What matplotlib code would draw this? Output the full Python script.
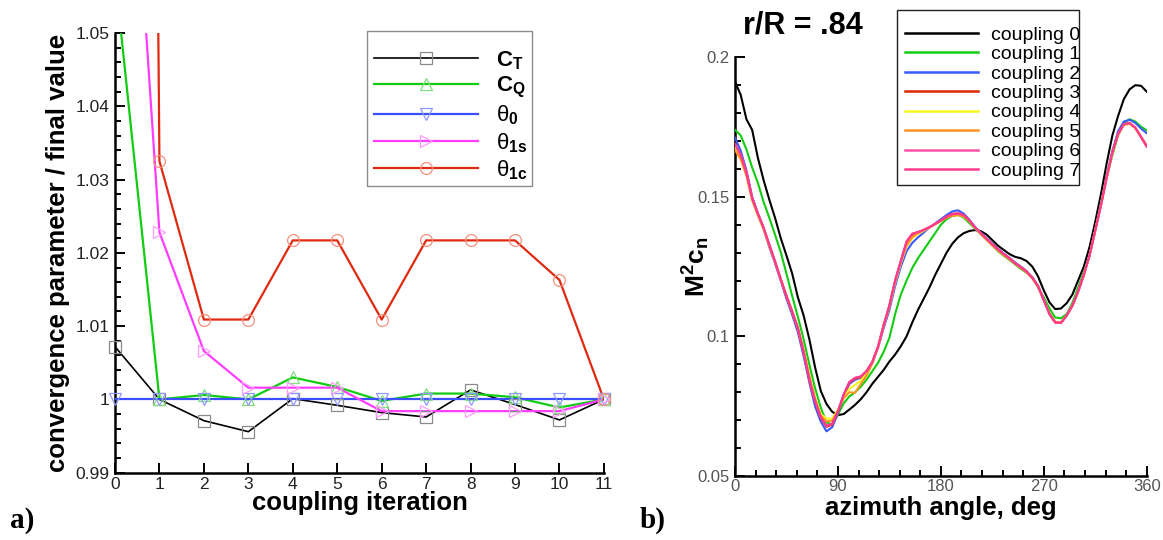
import numpy as np
import matplotlib
matplotlib.use("Agg")
import matplotlib.pyplot as plt
from matplotlib.lines import Line2D
from matplotlib.patches import Rectangle

plt.rcParams['font.family'] = ['Liberation Sans', 'DejaVu Sans']
plt.rcParams['mathtext.fontset'] = 'custom'
plt.rcParams['mathtext.rm'] = 'Liberation Sans'
plt.rcParams['mathtext.bf'] = 'Liberation Sans:bold'
plt.rcParams['mathtext.it'] = 'Liberation Sans:italic'

# ---------------- (a) convergence of trim parameters ----------------
iterations = [0, 1, 2, 3, 4, 5, 6, 7, 8, 9, 10, 11]
ct = [1.0072, 1.0000, 0.9971, 0.9956, 1.0001, 0.9992, 0.9982, 0.9976, 1.0013, 0.9993, 0.9972, 1.0000]
cq = [1.0580, 1.0000, 1.0006, 1.0000, 1.0030, 1.0017, 0.9998, 1.0008, 1.0008, 1.0003, 0.9989, 1.0000]
theta0 = [1.0000, 1.0000, 1.0000, 1.0000, 1.0000, 1.0000, 1.0000, 1.0000, 1.0000, 1.0000, 1.0000, 1.0000]
theta1s = [1.1140, 1.0228, 1.0066, 1.0016, 1.0016, 1.0016, 0.9984, 0.9984, 0.9984, 0.9984, 0.9984, 1.0000]
theta1c = [1.7200, 1.0325, 1.0109, 1.0109, 1.0217, 1.0217, 1.0109, 1.0217, 1.0217, 1.0217, 1.0163, 1.0000]

left_series = [ct, cq, theta0, theta1s, theta1c]
left_labels = [r'$\mathbf{C}_\mathbf{T}$', r'$\mathbf{C}_\mathbf{Q}$',
               r'$\mathrm{\theta}_\mathbf{0}$', r'$\mathrm{\theta}_\mathbf{1s}$',
               r'$\mathrm{\theta}_\mathbf{1c}$']
left_colors = ['#000000', '#11cc11', '#3a4dff', '#ff3cff', '#e02a10']
left_marker_edges = ['#8a8a8a', '#7fe07f', '#8f98ff', '#ff9cff', '#f3907f']
left_markers = ['s', '^', 'v', '>', 'o']
left_widths = [1.2, 1.6, 1.6, 1.6, 1.6]

left_yticks = [0.99, 1.00, 1.01, 1.02, 1.03, 1.04, 1.05]
left_yticklabels = ['0.99', '1', '1.01', '1.02', '1.03', '1.04', '1.05']

# ---------------- (b) sectional normal force at r/R = .84 ----------------
azimuth = [0, 5, 10, 15, 20, 25, 30, 35, 40, 45, 50, 55, 60, 65, 70, 75, 80, 85, 90,
           95, 100, 105, 110, 115, 120, 125, 130, 135, 140, 145, 150, 155, 160, 165, 170, 175, 180,
           185, 190, 195, 200, 205, 210, 215, 220, 225, 230, 235, 240, 245, 250, 255, 260, 265, 270,
           275, 280, 285, 290, 295, 300, 305, 310, 315, 320, 325, 330, 335, 340, 345, 350, 355, 360]

coupling0 = [0.1913, 0.1865, 0.1778, 0.1740, 0.1640, 0.1560, 0.1490, 0.1425, 0.1352, 0.1290, 0.1225, 0.1140, 0.1075, 0.0990, 0.0890, 0.0805, 0.0758, 0.0730, 0.0718,
             0.0722, 0.0738, 0.0755, 0.0775, 0.0800, 0.0830, 0.0855, 0.0880, 0.0910, 0.0935, 0.0965, 0.1000, 0.1050, 0.1095, 0.1135, 0.1175, 0.1220, 0.1260,
             0.1300, 0.1332, 0.1355, 0.1370, 0.1378, 0.1381, 0.1377, 0.1365, 0.1345, 0.1325, 0.1310, 0.1295, 0.1285, 0.1280, 0.1270, 0.1250, 0.1215, 0.1165,
             0.1122, 0.1098, 0.1100, 0.1119, 0.1150, 0.1200, 0.1250, 0.1320, 0.1410, 0.1510, 0.1620, 0.1720, 0.1790, 0.1850, 0.1885, 0.1900, 0.1898, 0.1877]

coupling1 = [0.1740, 0.1720, 0.1670, 0.1605, 0.1550, 0.1482, 0.1425, 0.1365, 0.1302, 0.1225, 0.1145, 0.1070, 0.0990, 0.0900, 0.0815, 0.0745, 0.0692, 0.0684, 0.0720,
             0.0760, 0.0785, 0.0800, 0.0820, 0.0845, 0.0875, 0.0905, 0.0945, 0.0995, 0.1080, 0.1150, 0.1200, 0.1245, 0.1280, 0.1310, 0.1340, 0.1370, 0.1400,
             0.1420, 0.1432, 0.1436, 0.1426, 0.1406, 0.1386, 0.1366, 0.1346, 0.1326, 0.1306, 0.1289, 0.1274, 0.1258, 0.1242, 0.1228, 0.1212, 0.1175, 0.1140,
             0.1100, 0.1068, 0.1065, 0.1080, 0.1120, 0.1175, 0.1230, 0.1290, 0.1380, 0.1480, 0.1570, 0.1650, 0.1720, 0.1765, 0.1778, 0.1770, 0.1752, 0.1738]

coupling2 = [0.1712, 0.1665, 0.1595, 0.1500, 0.1440, 0.1385, 0.1320, 0.1262, 0.1200, 0.1135, 0.1078, 0.1015, 0.0930, 0.0835, 0.0750, 0.0695, 0.0660, 0.0675, 0.0725,
             0.0785, 0.0830, 0.0845, 0.0852, 0.0872, 0.0905, 0.0958, 0.1030, 0.1095, 0.1180, 0.1250, 0.1305, 0.1335, 0.1355, 0.1372, 0.1390, 0.1405, 0.1420,
             0.1435, 0.1448, 0.1452, 0.1440, 0.1418, 0.1392, 0.1372, 0.1352, 0.1332, 0.1314, 0.1297, 0.1282, 0.1265, 0.1250, 0.1234, 0.1212, 0.1182, 0.1132,
             0.1082, 0.1052, 0.1050, 0.1076, 0.1112, 0.1162, 0.1222, 0.1292, 0.1382, 0.1475, 0.1575, 0.1665, 0.1735, 0.1770, 0.1776, 0.1765, 0.1745, 0.1728]

coupling3 = [0.1686, 0.1648, 0.1588, 0.1496, 0.1440, 0.1388, 0.1326, 0.1267, 0.1204, 0.1142, 0.1086, 0.1025, 0.0942, 0.0845, 0.0766, 0.0708, 0.0676, 0.0684, 0.0730,
             0.0790, 0.0834, 0.0849, 0.0854, 0.0874, 0.0908, 0.0962, 0.1040, 0.1108, 0.1198, 0.1268, 0.1335, 0.1364, 0.1372, 0.1380, 0.1390, 0.1403, 0.1416,
             0.1429, 0.1439, 0.1441, 0.1435, 0.1415, 0.1390, 0.1370, 0.1350, 0.1330, 0.1312, 0.1295, 0.1280, 0.1262, 0.1248, 0.1232, 0.1210, 0.1180, 0.1130,
             0.1080, 0.1050, 0.1048, 0.1075, 0.1110, 0.1160, 0.1220, 0.1290, 0.1380, 0.1470, 0.1570, 0.1660, 0.1725, 0.1760, 0.1764, 0.1748, 0.1716, 0.1684]

coupling4 = [0.1675, 0.1640, 0.1580, 0.1490, 0.1436, 0.1386, 0.1326, 0.1268, 0.1207, 0.1146, 0.1090, 0.1030, 0.0950, 0.0858, 0.0780, 0.0722, 0.0706, 0.0705, 0.0738,
             0.0782, 0.0812, 0.0826, 0.0842, 0.0866, 0.0904, 0.0960, 0.1038, 0.1105, 0.1192, 0.1262, 0.1322, 0.1352, 0.1368, 0.1378, 0.1390, 0.1402, 0.1414,
             0.1427, 0.1436, 0.1438, 0.1432, 0.1413, 0.1389, 0.1369, 0.1349, 0.1329, 0.1311, 0.1294, 0.1279, 0.1262, 0.1247, 0.1231, 0.1210, 0.1180, 0.1131,
             0.1082, 0.1052, 0.1050, 0.1076, 0.1111, 0.1161, 0.1221, 0.1290, 0.1380, 0.1470, 0.1568, 0.1658, 0.1723, 0.1758, 0.1763, 0.1747, 0.1715, 0.1682]

coupling5 = [0.1668, 0.1635, 0.1575, 0.1488, 0.1434, 0.1384, 0.1324, 0.1266, 0.1206, 0.1146, 0.1090, 0.1032, 0.0952, 0.0860, 0.0778, 0.0716, 0.0696, 0.0698, 0.0735,
             0.0778, 0.0800, 0.0798, 0.0830, 0.0860, 0.0902, 0.0962, 0.1042, 0.1112, 0.1200, 0.1268, 0.1325, 0.1355, 0.1370, 0.1380, 0.1391, 0.1402, 0.1413,
             0.1425, 0.1432, 0.1434, 0.1430, 0.1412, 0.1388, 0.1367, 0.1346, 0.1326, 0.1308, 0.1291, 0.1276, 0.1260, 0.1245, 0.1229, 0.1208, 0.1178, 0.1130,
             0.1082, 0.1052, 0.1050, 0.1076, 0.1110, 0.1160, 0.1220, 0.1290, 0.1380, 0.1470, 0.1568, 0.1658, 0.1723, 0.1758, 0.1762, 0.1746, 0.1714, 0.1681]

coupling6 = [0.1688, 0.1650, 0.1588, 0.1496, 0.1440, 0.1390, 0.1328, 0.1268, 0.1205, 0.1144, 0.1088, 0.1028, 0.0944, 0.0846, 0.0768, 0.0710, 0.0678, 0.0686, 0.0731,
             0.0791, 0.0836, 0.0851, 0.0856, 0.0876, 0.0907, 0.0962, 0.1040, 0.1110, 0.1200, 0.1270, 0.1340, 0.1368, 0.1374, 0.1381, 0.1391, 0.1403, 0.1416,
             0.1429, 0.1438, 0.1441, 0.1435, 0.1415, 0.1390, 0.1370, 0.1350, 0.1330, 0.1312, 0.1295, 0.1280, 0.1262, 0.1248, 0.1232, 0.1210, 0.1180, 0.1130,
             0.1080, 0.1050, 0.1048, 0.1075, 0.1110, 0.1160, 0.1220, 0.1290, 0.1380, 0.1470, 0.1570, 0.1660, 0.1725, 0.1760, 0.1765, 0.1748, 0.1715, 0.1682]

coupling7 = [0.1690, 0.1650, 0.1585, 0.1495, 0.1440, 0.1390, 0.1330, 0.1270, 0.1205, 0.1145, 0.1090, 0.1030, 0.0945, 0.0845, 0.0770, 0.0712, 0.0680, 0.0688, 0.0732,
             0.0792, 0.0837, 0.0852, 0.0857, 0.0876, 0.0908, 0.0962, 0.1040, 0.1110, 0.1200, 0.1270, 0.1340, 0.1368, 0.1374, 0.1382, 0.1392, 0.1403, 0.1415,
             0.1428, 0.1438, 0.1440, 0.1435, 0.1415, 0.1390, 0.1370, 0.1350, 0.1330, 0.1312, 0.1295, 0.1280, 0.1262, 0.1248, 0.1232, 0.1210, 0.1180, 0.1130,
             0.1080, 0.1050, 0.1048, 0.1075, 0.1110, 0.1160, 0.1220, 0.1290, 0.1380, 0.1470, 0.1570, 0.1660, 0.1725, 0.1760, 0.1765, 0.1748, 0.1715, 0.1680]

couplings = [coupling0, coupling1, coupling2, coupling3, coupling4, coupling5, coupling6, coupling7]
coupling_labels = ['coupling 0', 'coupling 1', 'coupling 2', 'coupling 3',
                   'coupling 4', 'coupling 5', 'coupling 6', 'coupling 7']
coupling_colors = ['#000000', '#12cc12', '#3a5aff', '#dc2500', '#f6f620', '#ff9420', '#ff52a6', '#ff3a8c']

right_yticks = [0.05, 0.10, 0.15, 0.20]
right_yticklabels = ['0.05', '0.1', '0.15', '0.2']
right_xticks = [0, 90, 180, 270, 360]

# ---------------- figure ----------------
W, H = 1163, 540
fig = plt.figure(figsize=(W / 100, H / 100), dpi=100)


def fx(px):
    return px / W


def fy(py):
    return 1 - py / H


def style_axes(ax, label_color):
    for side in ('top', 'right'):
        ax.spines[side].set_visible(False)
    for side in ('left', 'bottom'):
        ax.spines[side].set_linewidth(1.8)
    ax.tick_params(which='both', direction='in', width=1.4, colors='black',
                   labelcolor=label_color, top=False, right=False)
    ax.tick_params(which='major', length=7.5)
    ax.tick_params(which='minor', length=4)


# (a)
axa = fig.add_axes([fx(115), fy(472.7), fx(488.9), 439.7 / H])
ylim_a = (0.99, 1.05)
for vals, col, mec, mk, lw in zip(left_series, left_colors, left_marker_edges, left_markers, left_widths):
    axa.plot(iterations, vals, color=col, lw=lw, zorder=3)
    shown = np.array(vals, dtype=float)
    shown[shown > ylim_a[1]] = np.nan
    axa.plot(iterations, shown, ls='none', marker=mk, ms=8.5, mfc='none', mec=mec,
             mew=0.9, clip_on=False, zorder=4)
axa.set_xlim(0, 11)
axa.set_ylim(*ylim_a)
axa.set_xticks(iterations)
axa.set_yticks(left_yticks)
axa.set_yticklabels(left_yticklabels)
axa.set_yticks(np.arange(0.99, 1.0501, 0.002), minor=True)
style_axes(axa, '#222222')
axa.tick_params(axis='both', which='major', labelsize=12.5)
axa.tick_params(axis='x', which='major', pad=3)
axa.tick_params(axis='y', which='major', pad=4)
axa.set_xlabel('coupling iteration', fontsize=18.5, fontweight='bold', va='center')
axa.xaxis.set_label_coords(0.5, -(503 - 472.7) / 439.7)
axa.set_ylabel('convergence parameter / final value', fontsize=18.5,
               fontweight='bold', va='center')
axa.yaxis.set_label_coords((58 - 115) / 488.9, 0.5)

handles_a = [Line2D([], [], color=c, lw=lw, marker=m, ms=8.5, mfc='none', mec=e, mew=0.9)
             for c, e, m, lw in zip(left_colors, left_marker_edges, left_markers, left_widths)]
fig.patches.append(Rectangle((fx(366.7), fy(185.7)), fx(165), 155 / H, transform=fig.transFigure,
                             fill=True, fc='white', ec='#8c8c8c', lw=1.0, zorder=5))
leg_a = fig.legend(handles_a, left_labels, loc='upper left',
                   bbox_to_anchor=(fx(374), fy(49)), bbox_transform=fig.transFigure,
                   frameon=False, borderpad=0, borderaxespad=0, numpoints=1,
                   handlelength=4.68, handletextpad=0.81, labelspacing=0.16,
                   prop={'size': 16})
leg_a.set_zorder(6)

# (b)
axb = fig.add_axes([fx(735), fy(476), fx(411.7), 418.7 / H])
for vals, col in zip(couplings, coupling_colors):
    axb.plot(azimuth, vals, color=col, lw=1.5, zorder=3)
axb.set_xlim(0, 360)
axb.set_ylim(0.05, 0.2)
axb.set_xticks(right_xticks)
axb.set_xticks(np.arange(0, 361, 18), minor=True)
axb.set_yticks(right_yticks)
axb.set_yticklabels(right_yticklabels)
axb.set_yticks(np.arange(0.05, 0.2001, 0.01), minor=True)
style_axes(axb, '#555555')
axb.tick_params(axis='both', which='major', labelsize=12)
axb.tick_params(axis='x', which='major', pad=2)
axb.tick_params(axis='y', which='major', pad=4)
axb.set_xlabel('azimuth angle, deg', fontsize=18.5, fontweight='bold', va='center')
axb.xaxis.set_label_coords(0.5, -(508 - 476) / 418.7)
axb.set_ylabel(r'$\mathbf{M}^\mathbf{2}\mathbf{c}_\mathbf{n}$', fontsize=19, va='center')
axb.yaxis.set_label_coords((696 - 735) / 411.7, 0.5)

handles_b = [Line2D([], [], color=c, lw=1.8) for c in coupling_colors]
fig.patches.append(Rectangle((fx(896.7), fy(185)), fx(182.6), 175 / H, transform=fig.transFigure,
                             fill=True, fc='white', ec='#222222', lw=1.0, zorder=5))
leg_b = fig.legend(handles_b, coupling_labels, loc='upper left',
                   bbox_to_anchor=(fx(905), fy(26)), bbox_transform=fig.transFigure,
                   frameon=False, borderpad=0, borderaxespad=0,
                   handlelength=3.77, handletextpad=0.65, labelspacing=0.095,
                   prop={'size': 14})
leg_b.set_zorder(6)

fig.text(fx(803), fy(25.5), 'r/R = .84', fontsize=22, fontweight='bold',
         ha='center', va='center')

# panel tags
fig.text(fx(10), fy(520), 'a)', fontsize=21, fontweight='bold',
         family='Liberation Serif', ha='left', va='center')
fig.text(fx(640), fy(520), 'b)', fontsize=21, fontweight='bold',
         family='Liberation Serif', ha='left', va='center')

fig.savefig('out.png', dpi=100)
